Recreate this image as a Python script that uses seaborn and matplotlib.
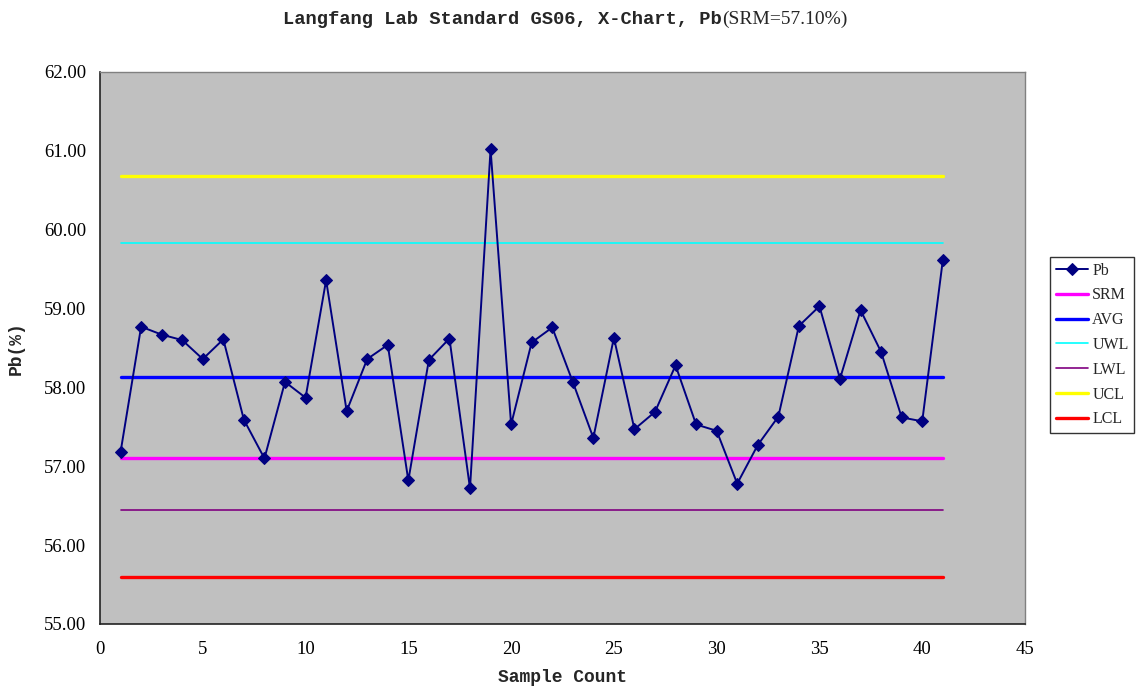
import numpy as np
import pandas as pd
import matplotlib
matplotlib.use("Agg")
import matplotlib.pyplot as plt
import seaborn as sns

# Pb results per sample (%)
sample = list(range(1, 42))
pb = [57.18, 58.77, 58.67, 58.60, 58.36, 58.61, 57.59, 57.10, 58.07, 57.87,
      59.36, 57.70, 58.36, 58.54, 56.82, 58.35, 58.62, 56.72, 61.02, 57.53,
      58.57, 58.76, 58.07, 57.36, 58.63, 57.47, 57.69, 58.28, 57.53, 57.45,
      56.78, 57.27, 57.63, 58.78, 59.03, 58.11, 58.98, 58.45, 57.62, 57.57,
      59.61]

# Reference and control limits
limit_names = ["SRM", "AVG", "UWL", "LWL", "UCL", "LCL"]
limit_values = [57.10, 58.13, 59.83, 56.44, 60.68, 55.60]
limit_colors = ["#FF00FF", "#0000FF", "#00FFFF", "#800080", "#FFFF00", "#FF0000"]
limit_widths = [2.4, 2.4, 1.2, 1.2, 2.4, 2.4]

x_ticks = [0, 5, 10, 15, 20, 25, 30, 35, 40, 45]
y_ticks = [55, 56, 57, 58, 59, 60, 61, 62]

sns.set_theme(style="white")
plt.rcParams["font.family"] = ["Liberation Serif", "DejaVu Serif"]

fig = plt.figure(figsize=(11.37, 6.88), dpi=100)
ax = fig.add_axes([100 / 1137, 1 - 624 / 688, 925 / 1137, 552 / 688])
ax.set_facecolor("#C0C0C0")

df = pd.DataFrame({"sample": sample, "pb": pb})
sns.lineplot(data=df, x="sample", y="pb", ax=ax, color="#000080", lw=1.4,
             marker="D", markersize=6, markeredgecolor="#000080",
             markerfacecolor="#000080", label="Pb", zorder=5)

for name, val, col, w in zip(limit_names, limit_values, limit_colors, limit_widths):
    sns.lineplot(x=[sample[0], sample[-1]], y=[val, val], ax=ax, color=col,
                 lw=w, label=name, zorder=3)

ax.set_xlim(0, 45)
ax.set_ylim(55, 62)
ax.set_xticks(x_ticks)
ax.set_yticks(y_ticks)
ax.set_yticklabels([f"{v:.2f}" for v in y_ticks])
ax.tick_params(axis="both", direction="inout", length=8, width=1, color="#333333",
               labelsize=13.5, labelcolor="#000000", pad=6)
ax.tick_params(axis="x", pad=8)
for side in ["top", "right"]:
    ax.spines[side].set_color("#808080")
    ax.spines[side].set_linewidth(1)
for side in ["left", "bottom"]:
    ax.spines[side].set_color("#222222")
    ax.spines[side].set_linewidth(1.2)

ax.set_xlabel("Sample Count", fontfamily="Liberation Mono", fontweight="bold",
              fontsize=13, labelpad=8)
ax.set_ylabel("Pb(%)", fontfamily="Liberation Mono", fontweight="bold",
              fontsize=13, labelpad=14)

leg = ax.legend(loc="upper left", bbox_to_anchor=(1050 / 1137, 1 - 257 / 688),
                bbox_transform=fig.transFigure, frameon=True, fancybox=False,
                edgecolor="#000000", facecolor="#FFFFFF", fontsize=11.5,
                handlelength=2.0, handletextpad=0.3, borderpad=0.35,
                labelspacing=0.55, borderaxespad=0)
leg.get_frame().set_linewidth(1.0)

# Two-part title: bold label followed by the reference value
t1 = fig.text(0.5, 1 - 19 / 688, "Langfang Lab Standard GS06, X-Chart, Pb",
              fontfamily="Liberation Mono", fontweight="bold", fontsize=13.5,
              ha="right", va="center")
fig.canvas.draw()
w1 = t1.get_window_extent().width
t2 = fig.text(0.5, 1 - 19 / 688, "(SRM=57.10%)", fontsize=14,
              ha="left", va="center")
w2 = t2.get_window_extent().width
x0 = 565 - (w1 + w2) / 2
t1.set_x((x0 + w1) / 1137)
t2.set_x((x0 + w1) / 1137)

fig.savefig("out.png", dpi=100, facecolor="white")
